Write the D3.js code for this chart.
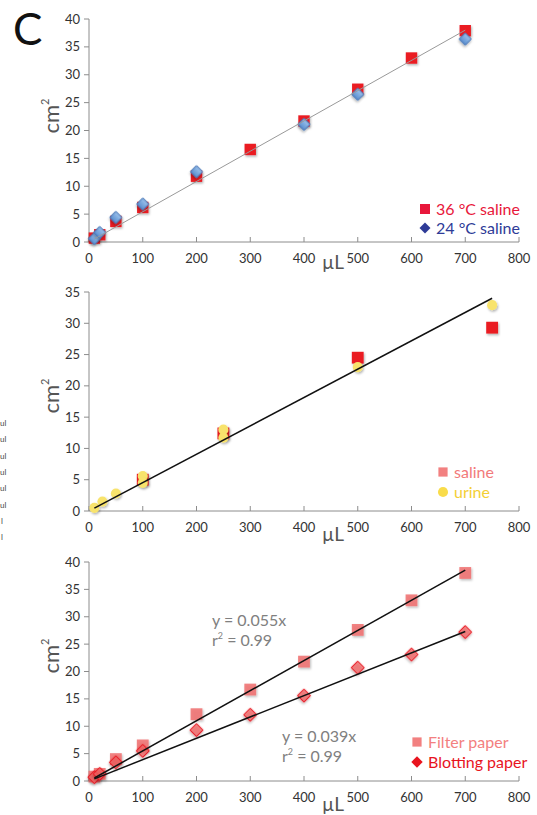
<!DOCTYPE html>
<html>
<head>
<meta charset="utf-8">
<script src="https://cdn.jsdelivr.net/npm/d3@7"></script>
<style>
  body { margin: 0; background: #fff; }
  svg { display: block; font-family: Lato, "Open Sans", sans-serif; }
</style>
</head>
<body>
<div id="chart"></div>
<script>
// shared x ticks (µL)
var xTicks = [0, 100, 200, 300, 400, 500, 600, 700, 800];

// panel 1: saline at two temperatures
var warmX = [10, 20, 50, 100, 200, 300, 400, 500, 600, 700];
var warmY = [0.7, 1.3, 3.7, 6.2, 11.8, 16.6, 21.7, 27.4, 33.0, 37.9];
var roomX = [10, 20, 50, 100, 200, 400, 500, 700];
var roomY = [0.6, 1.7, 4.4, 6.8, 12.6, 21.1, 26.5, 36.4];
var fit1X = [10, 700];
var fit1Y = [0.54, 38.0];
var yTicks1 = [0, 5, 10, 15, 20, 25, 30, 35, 40];

// panel 2: saline vs urine
var salineX = [100, 250, 500, 750];
var salineY = [5.0, 12.4, 24.5, 29.3];
var urineX = [10, 25, 50, 100, 100, 250, 250, 500, 750];
var urineY = [0.5, 1.5, 2.8, 5.6, 4.5, 13.0, 11.7, 23.0, 32.9];
var fit2X = [10, 750];
var fit2Y = [0.45, 34.0];
var yTicks2 = [0, 5, 10, 15, 20, 25, 30, 35];

// panel 3: filter vs blotting paper
var paperX = [10, 20, 50, 100, 200, 300, 400, 500, 600, 700];
var filterY = [0.8, 1.3, 4.0, 6.5, 12.2, 16.7, 21.8, 27.6, 33.0, 38.0];
var blotY = [0.7, 1.3, 3.4, 5.5, 9.3, 12.1, 15.6, 20.7, 23.1, 27.2];
var fitFilterX = [10, 700];
var fitFilterY = [0.55, 38.5];
var fitBlotX = [10, 700];
var fitBlotY = [0.39, 27.3];
var yTicks3 = [0, 5, 10, 15, 20, 25, 30, 35, 40];

// cut-off labels from the neighbouring panel
var strayLabels = ["ul", "ul", "ul", "ul", "ul", "ul", "l", "l"];

var w = 537, h = 815;

var svg = d3.select("#chart").append("svg")
    .attr("width", w)
    .attr("height", h);

var defs = svg.append("defs");
defs.append("filter").attr("id", "shadow")
    .attr("x", "-50%").attr("y", "-50%").attr("width", "200%").attr("height", "200%")
    .append("feDropShadow")
    .attr("dx", 1).attr("dy", 1.5).attr("stdDeviation", 1)
    .attr("flood-color", "#000").attr("flood-opacity", 0.3);

var grad = defs.append("linearGradient").attr("id", "blueGrad")
    .attr("x1", 0).attr("y1", 0).attr("x2", 0).attr("y2", 1);
grad.append("stop").attr("offset", "0%").attr("stop-color", "#9cc2ec");
grad.append("stop").attr("offset", "100%").attr("stop-color", "#5b8fd0");

var x = d3.scaleLinear().domain([0, 800]).range([89, 519]);

var square = d3.symbol().type(d3.symbolSquare);
var circle = d3.symbol().type(d3.symbolCircle);
// diamond = square turned 45 degrees
var diamond = { size: function(s) { return square.size(s); }, rot: 45 };

// "C" panel letter
svg.append("text")
    .attr("x", 13).attr("y", 45)
    .attr("font-size", 44)
    .attr("fill", "#111")
    .text("C");

svg.selectAll("text.stray")
    .data(strayLabels)
    .enter()
    .append("text")
    .attr("class", "stray")
    .attr("x", function(d) { return d == "l" ? 1 : 0; })
    .attr("y", function(d, i) { return 426 + i * 16.3; })
    .attr("font-size", 8)
    .attr("fill", "#444")
    .text(function(d) { return d; });

function drawAxes(g, y, yTicks, tickLabelY, labelY, muY) {
    var y0 = y.range()[0], y1 = y.range()[1];
    g.append("line")
        .attr("x1", x(0)).attr("x2", x(0))
        .attr("y1", y0).attr("y2", y1)
        .attr("stroke", "#8c8c8c").attr("stroke-width", 1);
    g.append("line")
        .attr("x1", x(0)).attr("x2", x(800))
        .attr("y1", y0).attr("y2", y0)
        .attr("stroke", "#8c8c8c").attr("stroke-width", 1);

    // y ticks point left
    g.selectAll("line.ytick")
        .data(yTicks)
        .enter()
        .append("line")
        .attr("class", "ytick")
        .attr("x1", x(0) - 5).attr("x2", x(0))
        .attr("y1", function(d) { return y(d); })
        .attr("y2", function(d) { return y(d); })
        .attr("stroke", "#8c8c8c");
    g.selectAll("text.ylab")
        .data(yTicks)
        .enter()
        .append("text")
        .attr("class", "ylab")
        .attr("x", x(0) - 9)
        .attr("y", function(d) { return y(d) + 4.5; })
        .attr("text-anchor", "end")
        .attr("font-size", 13)
        .attr("fill", "#333")
        .text(function(d) { return d; });

    // x ticks point up
    g.selectAll("line.xtick")
        .data(xTicks)
        .enter()
        .append("line")
        .attr("class", "xtick")
        .attr("x1", function(d) { return x(d); })
        .attr("x2", function(d) { return x(d); })
        .attr("y1", y0 - 5).attr("y2", y0)
        .attr("stroke", "#8c8c8c");
    g.selectAll("text.xlab")
        .data(xTicks)
        .enter()
        .append("text")
        .attr("class", "xlab")
        .attr("x", function(d) { return x(d); })
        .attr("y", y0 + tickLabelY)
        .attr("text-anchor", "middle")
        .attr("font-size", 13)
        .attr("fill", "#333")
        .text(function(d) { return d; });

    var cm = g.append("text")
        .attr("transform", "translate(59," + labelY + ") rotate(-90)")
        .attr("text-anchor", "middle")
        .attr("font-size", 22)
        .attr("fill", "#555");
    cm.append("tspan").text("cm");
    cm.append("tspan").attr("font-size", 11).attr("dy", -10).text("2");

    g.append("text")
        .attr("x", 333).attr("y", y0 + muY)
        .attr("text-anchor", "middle")
        .attr("font-size", 19)
        .attr("fill", "#555")
        .text("µL");
}

function drawMarks(g, xs, ys, y, sym, size, fill, stroke) {
    var rot = sym.rot || 0;
    g.selectAll(null)
        .data(xs)
        .enter()
        .append("path")
        .attr("d", sym.size(size)())
        .attr("transform", function(d, i) {
            return "translate(" + x(d) + "," + y(ys[i]) + ") rotate(" + rot + ")";
        })
        .attr("fill", fill)
        .attr("stroke", stroke)
        .attr("stroke-width", stroke == "none" ? 0 : 1)
        .attr("filter", "url(#shadow)");
}

function drawFit(g, xs, ys, y, color, width) {
    var line = d3.line()
        .x(function(d) { return x(d); })
        .y(function(d, i) { return y(ys[i]); });
    g.append("path")
        .attr("d", line(xs))
        .attr("fill", "none")
        .attr("stroke", color)
        .attr("stroke-width", width);
}

function legendItem(g, lx, ly, sym, size, fill, label, color) {
    g.append("path")
        .attr("d", sym.size(size)())
        .attr("transform", "translate(" + lx + "," + ly + ") rotate(" + (sym.rot || 0) + ")")
        .attr("fill", fill);
    g.append("text")
        .attr("x", lx + 11).attr("y", ly + 5.5)
        .attr("font-size", 16)
        .attr("fill", color)
        .text(label);
}

// ---- panel 1
var y1 = d3.scaleLinear().domain([0, 40]).range([242, 19]);
var g1 = svg.append("g");
drawAxes(g1, y1, yTicks1, 21, 116, 27);
drawMarks(g1, warmX, warmY, y1, square, 130, "#ea1c24", "none");
drawMarks(g1, roomX, roomY, y1, diamond, 72, "url(#blueGrad)", "#4a78b8");
drawFit(g1, fit1X, fit1Y, y1, "#999", 1);
legendItem(g1, 425, 209, square, 100, "#e8173b", "36 °C saline", "#e8173b");
legendItem(g1, 425, 228, diamond, 60, "#2e3b97", "24 °C saline", "#2e3b97");

// ---- panel 2
var y2 = d3.scaleLinear().domain([0, 35]).range([511, 292]);
var g2 = svg.append("g");
drawAxes(g2, y2, yTicks2, 21, 396, 30);
drawMarks(g2, salineX, salineY, y2, square, 140, "#ea1c24", "none");
drawMarks(g2, urineX, urineY, y2, circle, 80, "#f8e36c", "none");
drawFit(g2, fit2X, fit2Y, y2, "#111", 1.5);
legendItem(g2, 443, 472, square, 85, "#f28080", "saline", "#f27a7a");
legendItem(g2, 443, 492, circle, 80, "#f9dc4a", "urine", "#f4cf34");

// ---- panel 3
var y3 = d3.scaleLinear().domain([0, 40]).range([781, 562]);
var g3 = svg.append("g");
drawAxes(g3, y3, yTicks3, 21, 656, 30);
drawMarks(g3, paperX, filterY, y3, square, 140, "rgba(240,110,110,0.85)", "none");
drawMarks(g3, paperX, blotY, y3, diamond, 85, "rgba(240,95,95,0.75)", "#e8141e");
drawFit(g3, fitFilterX, fitFilterY, y3, "#111", 1.5);
drawFit(g3, fitBlotX, fitBlotY, y3, "#111", 1.5);
legendItem(g3, 417, 742, square, 85, "#f28080", "Filter paper", "#f38080");
legendItem(g3, 417, 762, diamond, 65, "#e8141e", "Blotting paper", "#e8141e");

function fitNote(g, nx, ny, eq) {
    g.append("text")
        .attr("x", nx).attr("y", ny)
        .attr("font-size", 16)
        .attr("fill", "#808080")
        .text(eq);
    var r = g.append("text")
        .attr("x", nx).attr("y", ny + 20)
        .attr("font-size", 16)
        .attr("fill", "#808080");
    r.append("tspan").text("r");
    r.append("tspan").attr("font-size", 9).attr("dy", -7).text("2");
    r.append("tspan").attr("dy", 7).text(" = 0.99");
}
fitNote(g3, 212, 626, "y = 0.055x");
fitNote(g3, 282, 742, "y = 0.039x");
</script>
</body>
</html>
